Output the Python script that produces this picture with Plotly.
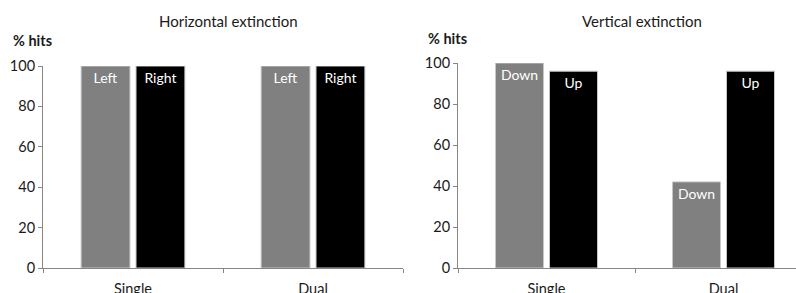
import plotly.graph_objects as go

conditions = ["Single", "Dual"]
horiz_left = [100, 100]
horiz_right = [100, 100]
vert_down = [100, 42]
vert_up = [96, 96]
horiz_names = ["Left", "Right"]
vert_names = ["Down", "Up"]
y_ticks = [0, 20, 40, 60, 80, 100]

FONT = "Lato, 'Open Sans', sans-serif"
GRAY = "#808080"
BLACK = "#000000"
EDGE = "#c8c8c8"
TXT = "#1a1a1a"

W, H = 796, 293

fig = go.Figure()

def add_bars(xa, ya, vals, name, color):
    fig.add_trace(go.Bar(
        x=conditions, y=vals, name=name, xaxis=xa, yaxis=ya,
        marker=dict(color=color, line=dict(color=EDGE, width=1)),
        text=[name] * len(vals), textposition="inside", insidetextanchor="end",
        textangle=0, textfont=dict(color="white", size=14, family=FONT),
        showlegend=False, hoverinfo="x+y+name",
        offsetgroup=name, alignmentgroup=xa,
    ))

add_bars("x", "y", horiz_left, horiz_names[0], GRAY)
add_bars("x", "y", horiz_right, horiz_names[1], BLACK)
add_bars("x2", "y2", vert_down, vert_names[0], GRAY)
add_bars("x2", "y2", vert_up, vert_names[1], BLACK)

def px_x(p):
    return p / W

def px_y(p):
    return 1 - p / H

axis_common = dict(showline=True, linecolor="#868686", linewidth=1,
                   ticks="outside", tickcolor="#868686", ticklen=4,
                   tickfont=dict(family=FONT, size=14.5, color=TXT),
                   showgrid=False, zeroline=False, fixedrange=True,
                   automargin=False)

right_cat_w = 177
fig.update_layout(
    width=W, height=H,
    margin=dict(l=0, r=0, t=0, b=0, autoexpand=False),
    paper_bgcolor="white", plot_bgcolor="white",
    barmode="group", bargap=0.39, bargroupgap=0.11,
    font=dict(family=FONT, size=14, color=TXT),
    uniformtext=dict(minsize=14, mode="show"),
    xaxis=dict(domain=[px_x(43), px_x(403)], anchor="y", type="category",
               range=[-0.5, 1.5], tickson="boundaries", ticklabelstandoff=8,
               **axis_common),
    yaxis=dict(domain=[px_y(268), px_y(66)], anchor="x", range=[0, 100],
               tickvals=y_ticks, **axis_common),
    xaxis2=dict(domain=[px_x(458), 1], anchor="y2", type="category",
                range=[-0.5, -0.5 + (W - 458) / right_cat_w], tickson="boundaries",
                ticklabelstandoff=8, **axis_common),
    yaxis2=dict(domain=[px_y(268), px_y(63)], anchor="x2", range=[0, 100],
                tickvals=y_ticks, **axis_common),
)

annos = [
    dict(text="Horizontal extinction", x=px_x(228), y=px_y(21), xanchor="center", yanchor="middle", size=15),
    dict(text="Vertical extinction", x=px_x(642), y=px_y(21), xanchor="center", yanchor="middle", size=15),
    dict(text="<b>% hits</b>", x=px_x(11), y=px_y(40), xanchor="left", yanchor="middle", size=14.5),
    dict(text="<b>% hits</b>", x=px_x(426), y=px_y(39), xanchor="left", yanchor="middle", size=14.5),
]
for a in annos:
    size = a.pop("size")
    fig.add_annotation(xref="paper", yref="paper", showarrow=False,
                       font=dict(family=FONT, size=size, color=TXT), **a)

fig.write_html("out.html", config={"displayModeBar": False},
               post_script="document.body.style.margin='0';document.body.style.overflow='hidden';")
